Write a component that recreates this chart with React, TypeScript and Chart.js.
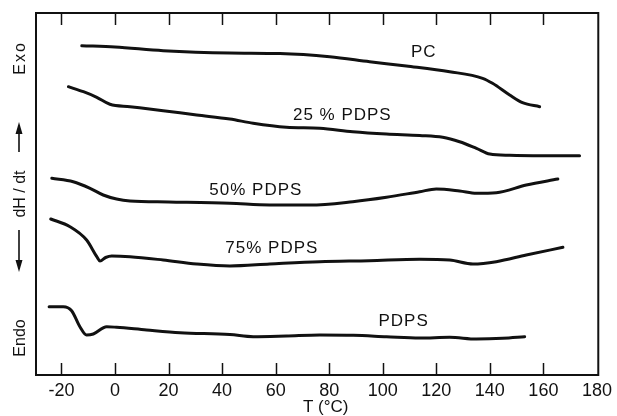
import React, { useEffect, useRef } from "react";
import { Chart, registerables } from "chart.js";

Chart.register(...registerables);

// ---- axis ----
const xTicks = [-20, 0, 20, 40, 60, 80, 100, 120, 140, 160, 180];
const xMin = -29.5;
const xMax = 180.5;
const yMin = 0;
const yMax = 362;

// ---- curves (T in °C, heat flow in arbitrary units) ----
const pcT = [-12.4, 0, 18, 42.9, 61.6, 80.2, 95.1, 108.8, 125, 137.3, 141, 147.4, 152.2, 158.6];
const pcY = [329.3, 328, 324.3, 322, 321.5, 318.3, 313.3, 309, 303.3, 296.7, 291.7, 280, 272.3, 268.3];

const p25T = [-17.4, -11.8, -6.8, -1.9, 5.6, 18, 30.5, 42.9, 51.6, 64, 76.5, 88.8, 101.4, 113.8, 122.4, 128.7, 135, 140, 147.4, 159.7, 173.5];
const p25Y = [288.3, 283.3, 277.7, 270.7, 268.3, 264.3, 260, 256, 251.7, 247.7, 246.7, 243.3, 241, 239.5, 237.7, 233.3, 226.7, 221, 219.7, 219.3, 219.3];

const p50T = [-23.6, -15.6, -9.3, -4.4, 0.6, 5.6, 20, 42.9, 57.8, 72.8, 88.8, 101.4, 113.8, 120, 128.7, 135, 142.4, 153.6, 165.4];
const p50Y = [196.7, 193.3, 186.7, 180, 176, 174, 173, 171.7, 170, 170, 173.3, 177.7, 183.3, 186, 184, 181.7, 182.3, 190, 196];

const p75T = [-24, -16.8, -10.6, -6.8, -5.6, -3.5, -1.2, 5.6, 18, 30.5, 42.9, 57.8, 76.5, 95, 113.8, 125, 133.7, 142.4, 153.6, 167.3];
const p75Y = [156, 148.3, 135, 118.3, 114, 117.5, 119, 118.3, 115, 111, 109, 111, 113.3, 114.3, 115.7, 115, 111, 113.3, 120, 127.7];

const pdpsT = [-24.6, -19.3, -16.2, -13.1, -10.6, -8.1, -3.1, 0.6, 11.8, 24.3, 42.9, 51.6, 64, 76.5, 89, 101.4, 113.8, 125, 135, 144.8, 153];
const pdpsY = [68.3, 68.3, 64.3, 48.3, 40, 41, 48.3, 47.7, 45, 42.3, 40.5, 38.3, 39, 40, 39.7, 38.3, 37, 37.7, 36, 36.7, 38.3];

// ---- curve labels ----
const curveLabels = ["PC", "25 % PDPS", "50% PDPS", "75% PDPS", "PDPS"];
const labelT = [115.3, 84.9, 52.6, 58.6, 107.8];
const labelY = [323, 260, 184.5, 127, 53.5];

const xTitle = "T (°C)";
const xTitleT = 78.7;
const yTop = "Exo";
const yMid = "dH / dt";
const yBottom = "Endo";

const INK = "#111111";
const FONT = "'Liberation Sans', Arial, Helvetica, sans-serif";

export default function App() {
  const ref = useRef<HTMLCanvasElement | null>(null);

  useEffect(() => {
    document.body.style.margin = "0";
    const canvas = ref.current;
    if (!canvas) return;

    const series = [
      [pcT, pcY],
      [p25T, p25Y],
      [p50T, p50Y],
      [p75T, p75Y],
      [pdpsT, pdpsY],
    ];

    const decor = {
      id: "decor",
      afterDatasetsDraw(chart: any) {
        const { ctx, chartArea: a, scales } = chart;
        const x = scales.x;
        const y = scales.y;
        ctx.save();
        ctx.strokeStyle = INK;
        ctx.fillStyle = INK;
        // frame
        ctx.lineWidth = 2;
        ctx.strokeRect(a.left, a.top, a.right - a.left, a.bottom - a.top);
        // inward ticks top & bottom
        ctx.lineWidth = 1.5;
        for (const v of xTicks) {
          if (v >= xMax - 1) continue;
          const px = Math.round(x.getPixelForValue(v)) + 0.5;
          ctx.beginPath();
          ctx.moveTo(px, a.top);
          ctx.lineTo(px, a.top + 12);
          ctx.stroke();
          ctx.beginPath();
          ctx.moveTo(px, a.bottom);
          ctx.lineTo(px, a.bottom - 12);
          ctx.stroke();
        }
        // curve labels
        ctx.font = `17px ${FONT}`;
        ctx.textAlign = "center";
        ctx.textBaseline = "middle";
        (ctx as any).letterSpacing = "1px";
        curveLabels.forEach((t, i) => {
          ctx.fillText(t, x.getPixelForValue(labelT[i]), y.getPixelForValue(labelY[i]));
        });
        (ctx as any).letterSpacing = "0px";
        // x title
        ctx.fillText(xTitle, x.getPixelForValue(xTitleT), chart.height - 9);
        // left side labels (rotated)
        const lx = 21;
        const drawRot = (txt: string, cy: number, spacing: string) => {
          ctx.save();
          ctx.translate(lx, cy);
          ctx.rotate(-Math.PI / 2);
          ctx.font = `16px ${FONT}`;
          (ctx as any).letterSpacing = spacing;
          ctx.textAlign = "center";
          ctx.textBaseline = "middle";
          ctx.fillText(txt, 0, 0);
          ctx.restore();
        };
        drawRot(yTop, 58, "2px");
        drawRot(yMid, 194, "0px");
        drawRot(yBottom, 338, "0px");
        // arrows
        const ax = 19;
        ctx.lineWidth = 1.6;
        ctx.beginPath();
        ctx.moveTo(ax, 152);
        ctx.lineTo(ax, 130);
        ctx.stroke();
        ctx.beginPath();
        ctx.moveTo(ax, 122);
        ctx.lineTo(ax - 3.5, 134);
        ctx.lineTo(ax + 3.5, 134);
        ctx.closePath();
        ctx.fill();
        ctx.beginPath();
        ctx.moveTo(ax, 230);
        ctx.lineTo(ax, 264);
        ctx.stroke();
        ctx.beginPath();
        ctx.moveTo(ax, 272);
        ctx.lineTo(ax - 3.5, 260);
        ctx.lineTo(ax + 3.5, 260);
        ctx.closePath();
        ctx.fill();
        ctx.restore();
      },
    };

    const chart = new Chart(canvas, {
      type: "line",
      data: {
        datasets: series.map(([ts, ys], k) => ({
          label: curveLabels[k],
          data: ts.map((t, i) => ({ x: t, y: ys[i] })),
          borderColor: INK,
          borderWidth: 3,
          pointRadius: 0,
          fill: false,
          cubicInterpolationMode: "monotone" as const,
          borderCapStyle: "round" as const,
          borderJoinStyle: "round" as const,
        })),
      },
      options: {
        animation: false,
        responsive: false,
        devicePixelRatio: 1,
        layout: { padding: { top: 13, right: 18, left: 0, bottom: 0 } },
        plugins: {
          legend: { display: false },
          tooltip: { enabled: false },
        },
        scales: {
          x: {
            type: "linear",
            min: xMin,
            max: xMax,
            afterBuildTicks: (s: any) => {
              s.ticks = xTicks.map((v) => ({ value: v }));
            },
            afterFit: (s: any) => {
              s.height = 41;
            },
            grid: { display: false, drawTicks: false },
            border: { display: false },
            ticks: {
              color: INK,
              font: { family: FONT, size: 18 },
              padding: 5,
              maxRotation: 0,
              autoSkip: false,
            },
          },
          y: {
            type: "linear",
            min: yMin,
            max: yMax,
            afterFit: (s: any) => {
              s.width = 36;
            },
            grid: { display: false, drawTicks: false },
            border: { display: false },
            ticks: { display: false },
          },
        },
      },
      plugins: [decor],
    });

    return () => chart.destroy();
  }, []);

  return (
    <div style={{ width: 617, height: 416, background: "#fff" }}>
      <canvas ref={ref} width={617} height={416} style={{ display: "block" }} />
    </div>
  );
}
